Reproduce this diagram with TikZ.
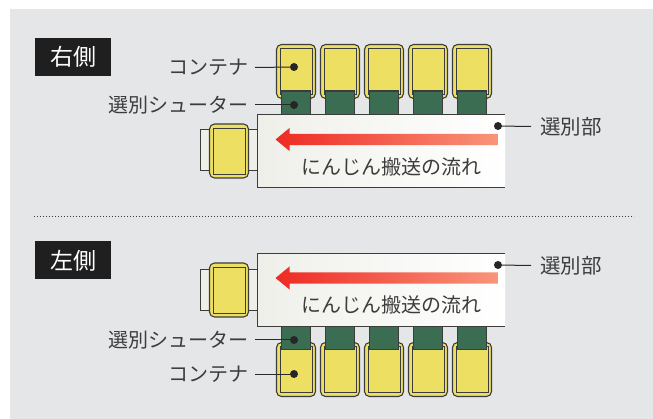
\documentclass[tikz,border=0pt]{standalone}
\usepackage{fontspec}
\setmainfont{Noto Sans CJK JP}
\usepackage{xcolor}
\usetikzlibrary{shapes.arrows, calc}
\definecolor{panelgray}{HTML}{E5E6E8}
\definecolor{inkgray}{HTML}{3C3C3C}
\definecolor{boxyellow}{HTML}{EDDF62}
\definecolor{chutegreen}{HTML}{3A6D52}
\definecolor{beltleft}{HTML}{EFEFEA}
\definecolor{flowred}{HTML}{EE2A24}
\definecolor{flowsalmon}{HTML}{F9957A}
\tikzset{
  contouter/.style={draw=inkgray, fill=boxyellow, line width=1.1pt, rounded corners=5pt, minimum width=39pt, minimum height=54pt, inner sep=0pt},
  continner/.style={draw=inkgray, line width=0.9pt, minimum width=32pt, minimum height=46pt, inner sep=0pt},
  chute/.style={draw=inkgray, fill=chutegreen, line width=1.1pt, minimum width=29pt, minimum height=24pt, inner sep=0pt},
  backrect/.style={draw=inkgray, fill=beltleft, line width=1pt, minimum width=58pt, minimum height=41pt, inner sep=0pt},
  beltbox/.style={left color=beltleft, right color=white, minimum width=247pt, minimum height=72pt, inner sep=0pt},
  flowarrow/.style={single arrow, shape border rotate=180, left color=flowred, right color=flowsalmon, minimum height=223pt, minimum width=23pt, single arrow head extend=6pt, single arrow tip angle=79, inner sep=0pt, text height=11pt, text depth=0pt, text width=0pt},
  tag/.style={fill=black!88, text=white, font=\fontsize{23}{23}\selectfont, minimum width=76pt, minimum height=38pt, inner sep=0pt},
  lbl/.style={text=inkgray, font=\fontsize{20}{20}\selectfont, inner xsep=6pt, inner ysep=0pt, anchor=east},
  partlbl/.style={text=inkgray, font=\fontsize{20.5}{20.5}\selectfont, inner xsep=9pt, inner ysep=0pt, anchor=west},
  beltlbl/.style={text=inkgray, font=\fontsize{20}{20}\selectfont, inner sep=0pt},
  dot/.style={circle, fill=black!85, minimum size=8pt, inner sep=0pt},
  lead/.style={draw=inkgray!70!black, line width=1pt},
}
\begin{document}
\begin{tikzpicture}[x=1pt, y=-1pt]
  \useasboundingbox (0,0) rectangle (653,419);
  \fill[panelgray] (10,9) rectangle (653,419);

  % right side
  \node[tag] at (73,57) (tagR) {右側};
  \foreach \cx in {296,340,384,428,472} {
    \node[contouter] at (\cx,71.5) (contR\cx) {};
    \node[continner] at (\cx,71.5) (innerR\cx) {};
    \node[chute] at (\cx,103) (chuteR\cx) {};
  }
  \node[backrect] at (229,150.5) (backR) {};
  \node[contouter] at (229,151) (sideR) {};
  \node[continner] at (229,151) (sideinR) {};
  \node[beltbox] at (381.5,151) (beltR) {};
  \draw[inkgray, line width=1.1pt] (beltR.north east) -- (beltR.north west) -- (beltR.south west) -- (beltR.south east);
  \node[flowarrow] at (390.5,139.5) (flowR) {};
  \node[beltlbl] at (391,167) (flowtextR) {にんじん搬送の流れ};

  \node[dot] at (294,67) (dotcontR) {};
  \node[dot] at (294,105) (dotchuteR) {};
  \node[dot] at (498,126) (dotbeltR) {};
  \node[lbl] at (255,67.5) (labcontR) {コンテナ};
  \node[lbl] at (255,105) (labchuteR) {選別シューター};
  \node[partlbl] at (531,126.5) (labbeltR) {選別部};
  \draw[lead] (labcontR.east) -- (dotcontR);
  \draw[lead] (labchuteR.east) -- (dotchuteR);
  \draw[lead] (labbeltR.west) -- (dotbeltR);

  \coordinate (sepL) at (34,217);
  \coordinate (sepE) at (634,217);
  \draw[inkgray, line width=1pt, dotted] (sepL) -- (sepE);

  % left side
  \node[tag] at (73,260.5) (tagL) {左側};
  \foreach \cx in {296,340,384,428,472} {
    \node[contouter] at (\cx,369.5) (contL\cx) {};
    \node[continner] at (\cx,369.5) (innerL\cx) {};
    \node[chute] at (\cx,337.5) (chuteL\cx) {};
  }
  \node[backrect] at (229,290) (backL) {};
  \node[contouter] at (229,290) (sideL) {};
  \node[continner] at (229,290) (sideinL) {};
  \node[beltbox] at (381.5,290) (beltL) {};
  \draw[inkgray, line width=1.1pt] (beltL.north east) -- (beltL.north west) -- (beltL.south west) -- (beltL.south east);
  \node[flowarrow] at (390.5,278) (flowL) {};
  \node[beltlbl] at (391,305) (flowtextL) {にんじん搬送の流れ};

  \node[dot] at (294,340) (dotchuteL) {};
  \node[dot] at (294,374) (dotcontL) {};
  \node[dot] at (498,265) (dotbeltL) {};
  \node[lbl] at (255,340) (labchuteL) {選別シューター};
  \node[lbl] at (255,374) (labcontL) {コンテナ};
  \node[partlbl] at (531,265.5) (labbeltL) {選別部};
  \draw[lead] (labchuteL.east) -- (dotchuteL);
  \draw[lead] (labcontL.east) -- (dotcontL);
  \draw[lead] (labbeltL.west) -- (dotbeltL);
\end{tikzpicture}
\end{document}
